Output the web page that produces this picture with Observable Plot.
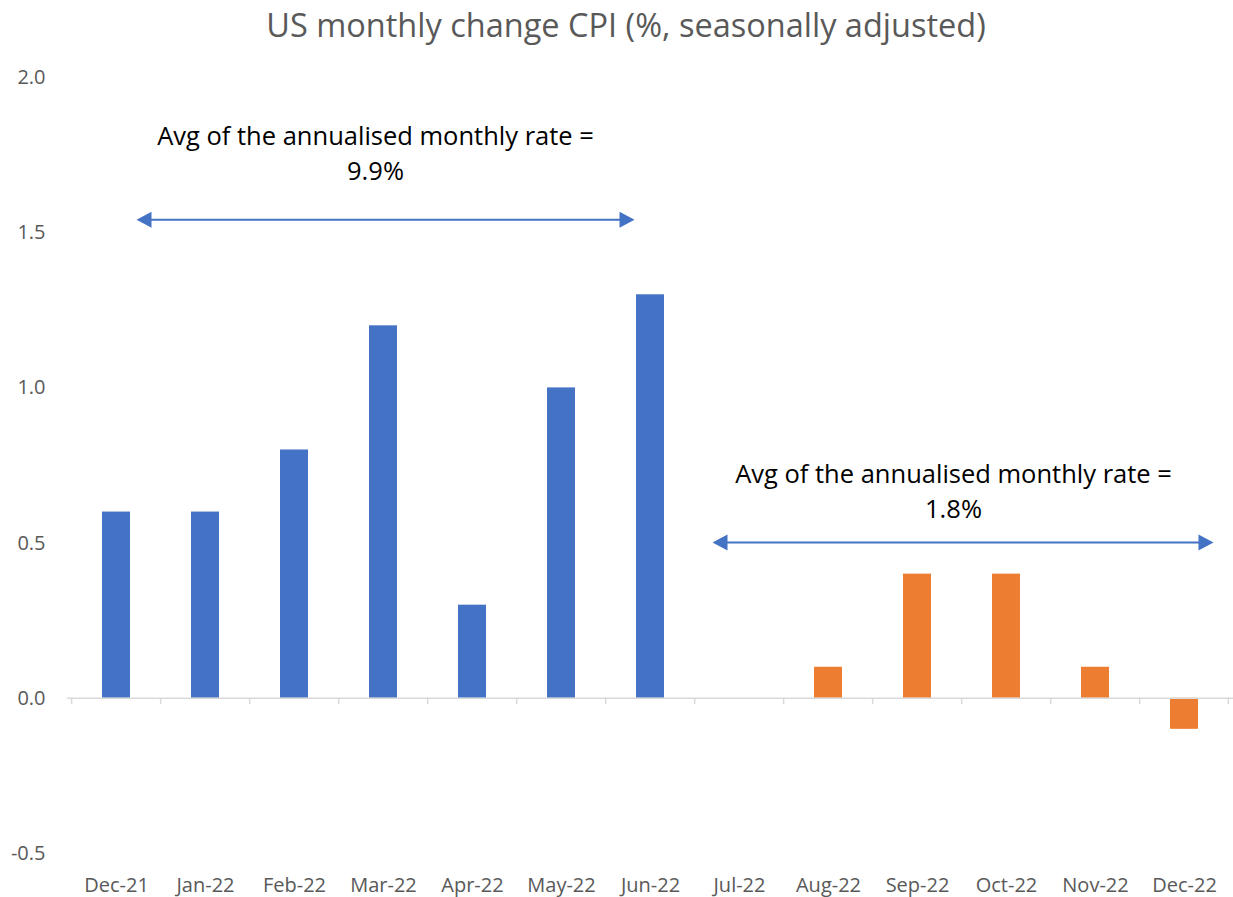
<!DOCTYPE html>
<html><head><meta charset="utf-8">
<script src="https://cdn.jsdelivr.net/npm/d3@7"></script>
<script src="https://cdn.jsdelivr.net/npm/@observablehq/plot@0.6"></script>
<style>
body{margin:0;background:#fff;font-family:"Open Sans", sans-serif;}
#title{height:60px;line-height:50px;text-align:center;font-size:32.5px;color:#595959;padding-left:19px;width:1214px;white-space:nowrap}
#chart svg{display:block}
</style></head><body>
<div id="title">US monthly change CPI (%, seasonally adjusted)</div>
<div id="chart"></div>
<script>
// ---- data ----
const months = ["Dec-21","Jan-22","Feb-22","Mar-22","Apr-22","May-22","Jun-22","Jul-22","Aug-22","Sep-22","Oct-22","Nov-22","Dec-22"];
const values = [0.6, 0.6, 0.8, 1.2, 0.3, 1.0, 1.3, 0.0, 0.1, 0.4, 0.4, 0.1, -0.1];
const periods = ["H1","H1","H1","H1","H1","H1","H1","H2","H2","H2","H2","H2","H2"];
const periodNames = ["H1","H2"];
const periodColors = ["#4472C4","#ED7D31"];
const yTicks = [-0.5, 0, 0.5, 1.0, 1.5, 2.0];
const annLabels = ["Avg of the annualised monthly rate =\n9.9%", "Avg of the annualised monthly rate =\n1.8%"];
const annTextAt = ["Mar-22", "Sep-22"];
const annTextY = [1.762, 0.674];
const annFrom = ["Dec-21", "Jun-22"];
const annTo = ["Jun-22", "Dec-22"];
const annArrowY = [1.542, 0.502];

const data = months.map((m, i) => ({month: m, value: values[i], period: periods[i]}));

const W = 1233, H = 837, ML = 67, MR = 0, MT = 17, MB = 44;
const step = (W - ML - MR) / months.length;
const blue = "#4472C4";

const triLeft = {draw(ctx) { ctx.moveTo(0, 0); ctx.lineTo(15, -8); ctx.lineTo(15, 8); ctx.closePath(); }};
const triRight = {draw(ctx) { ctx.moveTo(0, 0); ctx.lineTo(-15, -8); ctx.lineTo(-15, 8); ctx.closePath(); }};

const chart = Plot.plot({
  width: W, height: H,
  marginLeft: ML, marginRight: MR, marginTop: MT, marginBottom: MB,
  style: {fontFamily: "'Open Sans', sans-serif", fontSize: "20px", color: "#595959", background: "#fff", overflow: "visible"},
  x: {domain: months, paddingInner: 0.68, paddingOuter: 0.34, label: null, tickSize: 0, tickPadding: 24},
  y: {domain: [-0.5, 2], label: null, ticks: yTicks, tickFormat: d => d.toFixed(1), tickSize: 0, tickPadding: 22},
  color: {domain: periodNames, range: periodColors},
  marks: [
    Plot.barY(data, {x: "month", y: "value", fill: "period"}),
    Plot.ruleY([0], {stroke: "#D9D9D9", strokeWidth: 1.5}),
    Plot.ruleX(months, {x: d => d, y1: 0, y2: -0.02, dx: -step / 2, stroke: "#D9D9D9", strokeWidth: 1.5}),
    Plot.ruleX([months[months.length - 1]], {x: d => d, y1: 0, y2: -0.02, dx: step / 2 - 1, stroke: "#D9D9D9", strokeWidth: 1.5}),
    Plot.text([0, 1], {x: i => annTextAt[i], y: i => annTextY[i], text: i => annLabels[i], dx: -8, fill: "#000", fontSize: 25.5, lineHeight: 1.37, filter: i => i === 0}),
    Plot.text([0, 1], {x: i => annTextAt[i], y: i => annTextY[i], text: i => annLabels[i], dx: 36, fill: "#000", fontSize: 25.5, lineHeight: 1.37, filter: i => i === 1}),
    // arrow 1
    Plot.ruleY([0], {x1: i => annFrom[i], x2: i => annTo[i], y: i => annArrowY[i], stroke: blue, strokeWidth: 2, insetLeft: 40, insetRight: 36}),
    Plot.dot([0], {x: i => annFrom[i], y: i => annArrowY[i], dx: 20, symbol: triLeft, fill: blue, stroke: "none"}),
    Plot.dot([0], {x: i => annTo[i], y: i => annArrowY[i], dx: -16, symbol: triRight, fill: blue, stroke: "none"}),
    // arrow 2
    Plot.ruleY([1], {x1: i => annFrom[i], x2: i => annTo[i], y: i => annArrowY[i], stroke: blue, strokeWidth: 2, insetLeft: 82, insetRight: -8}),
    Plot.dot([1], {x: i => annFrom[i], y: i => annArrowY[i], dx: 62, symbol: triLeft, fill: blue, stroke: "none"}),
    Plot.dot([1], {x: i => annTo[i], y: i => annArrowY[i], dx: 29, symbol: triRight, fill: blue, stroke: "none"})
  ]
});
document.getElementById("chart").appendChild(chart);
</script>
</body></html>
